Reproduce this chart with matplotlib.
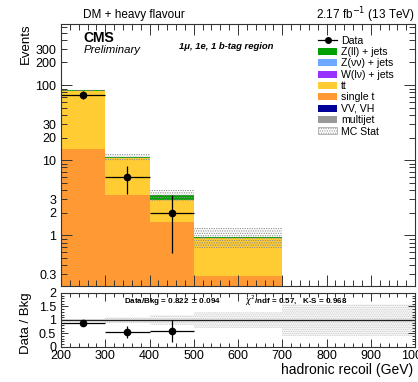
import numpy as np
import matplotlib
matplotlib.use('Agg')
import matplotlib.pyplot as plt
from matplotlib.patches import Patch
from matplotlib.lines import Line2D
from matplotlib.ticker import FixedLocator, NullFormatter, FuncFormatter, MultipleLocator

plt.rcParams['font.family'] = ['Liberation Sans', 'DejaVu Sans']
plt.rcParams['hatch.linewidth'] = 0.6

# ---------------- data ----------------
bin_edges = [200, 300, 400, 500, 700, 1000]
data_counts = [74, 6, 2, 0, 0]
multijet = [0.0, 0.0, 0.0, 0.0, 0.0]
vv_vh = [0.02, 0.01, 0.0, 0.0, 0.0]
single_t = [14.0, 3.4, 1.49, 0.29, 0.03]
ttbar = [69.5, 7.3, 1.5, 0.64, 0.05]
w_lnu = [0.05, 0.02, 0.0, 0.0, 0.0]
z_nunu = [0.05, 0.02, 0.0, 0.0, 0.0]
z_ll = [1.4, 0.2, 0.45, 0.03, 0.0]
mc_stat_rel = [0.03, 0.10, 0.17, 0.30, 0.59]

proc_names = ['multijet', 'VV, VH', 'single t', 'tt', 'W(l\u03bd) + jets', 'Z(\u03bd\u03bd) + jets', 'Z(ll) + jets']
proc_values = [multijet, vv_vh, single_t, ttbar, w_lnu, z_nunu, z_ll]
proc_colors = ['#999999', '#000099', '#ff9933', '#ffcc33', '#9a32ff', '#6fa8ff', '#00a000']
legend_order = ['Z(ll) + jets', 'Z(\u03bd\u03bd) + jets', 'W(l\u03bd) + jets', 'tt', 'single t', 'VV, VH', 'multijet']

edges = np.array(bin_edges, dtype=float)
widths = np.diff(edges)
centers = edges[:-1] + widths / 2

fig = plt.figure(figsize=(4.18, 3.82), dpi=100)
ax = fig.add_axes([0.146, 0.251, 0.847, 0.686])
ax2 = fig.add_axes([0.146, 0.092, 0.847, 0.141])

# stacked backgrounds
bottom = np.zeros(len(widths))
for name, vals, col in zip(proc_names, proc_values, proc_colors):
    v = np.array(vals)
    ax.bar(edges[:-1], v, width=widths, bottom=bottom + 1e-6, align='edge', color=col, linewidth=0)
    bottom = bottom + v
total = bottom

# MC stat band
err = total * np.array(mc_stat_rel)
ax.bar(edges[:-1], 2 * err, width=widths, bottom=total - err, align='edge',
       facecolor='none', edgecolor='#8c8c8c', hatch='.......', linewidth=0)

# data
d = np.array(data_counts, dtype=float)
m = d > 0
ax.errorbar(centers[m], d[m], xerr=widths[m] / 2, yerr=np.sqrt(d[m]), fmt='o', color='black',
            ms=4.5, elinewidth=0.9, capsize=0)

ax.set_yscale('log')
ax.set_xlim(200, 1000)
ax.set_ylim(0.21, 650)
ax.yaxis.set_major_locator(FixedLocator([1, 10, 100]))
minors = [v * s for s in [0.1, 1, 10, 100] for v in range(2, 10)]
ax.yaxis.set_minor_locator(FixedLocator(minors))
ax.yaxis.set_major_formatter(FuncFormatter(lambda v, p: '%g' % v))
labeled = [0.3, 2, 3, 20, 30, 200, 300]
ax.yaxis.set_minor_formatter(FuncFormatter(lambda v, p: '%g' % v if any(abs(v - l) < 1e-6 for l in labeled) else ''))
ax.xaxis.set_major_locator(MultipleLocator(100))
ax.xaxis.set_minor_locator(MultipleLocator(20))
ax.xaxis.set_major_formatter(NullFormatter())
for a in (ax, ax2):
    a.tick_params(which='both', direction='in', top=True, right=True, labelsize=9, width=0.7, color='#333333')
    a.tick_params(which='major', length=8)
    a.tick_params(which='minor', length=4)
    for s in a.spines.values():
        s.set_linewidth(0.8)
        s.set_color('#333333')
ax.tick_params(axis='y', which='minor', labelsize=9)

# legend
handles = [Line2D([0], [0], marker='o', color='black', ms=4, lw=0.9)]
labels = ['Data']
for name in legend_order:
    i = proc_names.index(name)
    handles.append(Patch(facecolor=proc_colors[i], edgecolor='none'))
    labels.append(name)
handles.append(Patch(facecolor='white', edgecolor='#9a9a9a', hatch='.......', linewidth=0.5))
labels.append('MC Stat')
ax.legend(handles, labels, loc='upper left', bbox_to_anchor=(0.715, 0.972), frameon=False,
          fontsize=7.6, handlelength=1.8, handleheight=0.65, labelspacing=0.13, handletextpad=0.35,
          borderaxespad=0)

# texts
fig.text(0.199, 0.961, 'DM + heavy flavour', fontsize=8.5, va='center', ha='left')
fig.text(0.993, 0.961, '2.17 fb$^{-1}$ (13 TeV)', fontsize=8.5, va='center', ha='right')
fig.text(0.199, 0.900, 'CMS', fontsize=10, fontweight='bold', va='center', ha='left')
fig.text(0.199, 0.869, 'Preliminary', fontsize=8.2, style='italic', va='center', ha='left')
fig.text(0.428, 0.877, '1\u03bc, 1e, 1 b-tag region', fontsize=6.8, style='italic', fontweight='bold',
         va='center', ha='left')
fig.text(0.062, 0.94, 'Events', fontsize=9.5, rotation=90, va='top', ha='center')
fig.text(0.062, 0.155, 'Data / Bkg', fontsize=9.5, rotation=90, va='center', ha='center')
fig.text(0.988, 0.032, 'hadronic recoil (GeV)', fontsize=10, va='center', ha='right')

# ratio panel
rel = np.array(mc_stat_rel)
ax2.bar(edges[:-1], 2 * rel, width=widths, bottom=1 - rel, align='edge',
        facecolor='none', edgecolor='#bdbdbd', hatch='.........', linewidth=0)
ax2.axhline(1, color='#222222', lw=1.0)
ratio = d[m] / total[m]
ratio_err = np.sqrt(d[m]) / total[m]
ax2.errorbar(centers[m], ratio, xerr=widths[m] / 2, yerr=ratio_err, fmt='o', color='black',
             ms=4.5, elinewidth=0.9, capsize=0)
ax2.set_xlim(200, 1000)
ax2.set_ylim(0, 2)
ax2.yaxis.set_major_locator(FixedLocator([0, 0.5, 1, 1.5, 2]))
ax2.yaxis.set_major_formatter(FuncFormatter(lambda v, p: '%g' % v))
ax2.yaxis.set_minor_locator(MultipleLocator(0.1))
ax2.xaxis.set_major_locator(MultipleLocator(100))
ax2.xaxis.set_minor_locator(MultipleLocator(20))
ax2.tick_params(axis='y', which='major', length=5)
ax2.tick_params(axis='y', which='minor', length=2.5)
ax2.tick_params(axis='x', which='major', length=6)
ax2.tick_params(axis='x', which='minor', length=3)
ax2.tick_params(axis='x', pad=2)
ax2.text(0.177, 0.86, 'Data/Bkg = 0.822 $\\pm$ 0.094', transform=ax2.transAxes, fontsize=5.8,
         fontweight='bold', va='center', ha='left')
ax2.text(0.52, 0.86, '$\\chi^{2}$/ndf = 0.57,   K-S = 0.968', transform=ax2.transAxes, fontsize=5.8,
         fontweight='bold', va='center', ha='left')

fig.savefig('out.png', dpi=100)
